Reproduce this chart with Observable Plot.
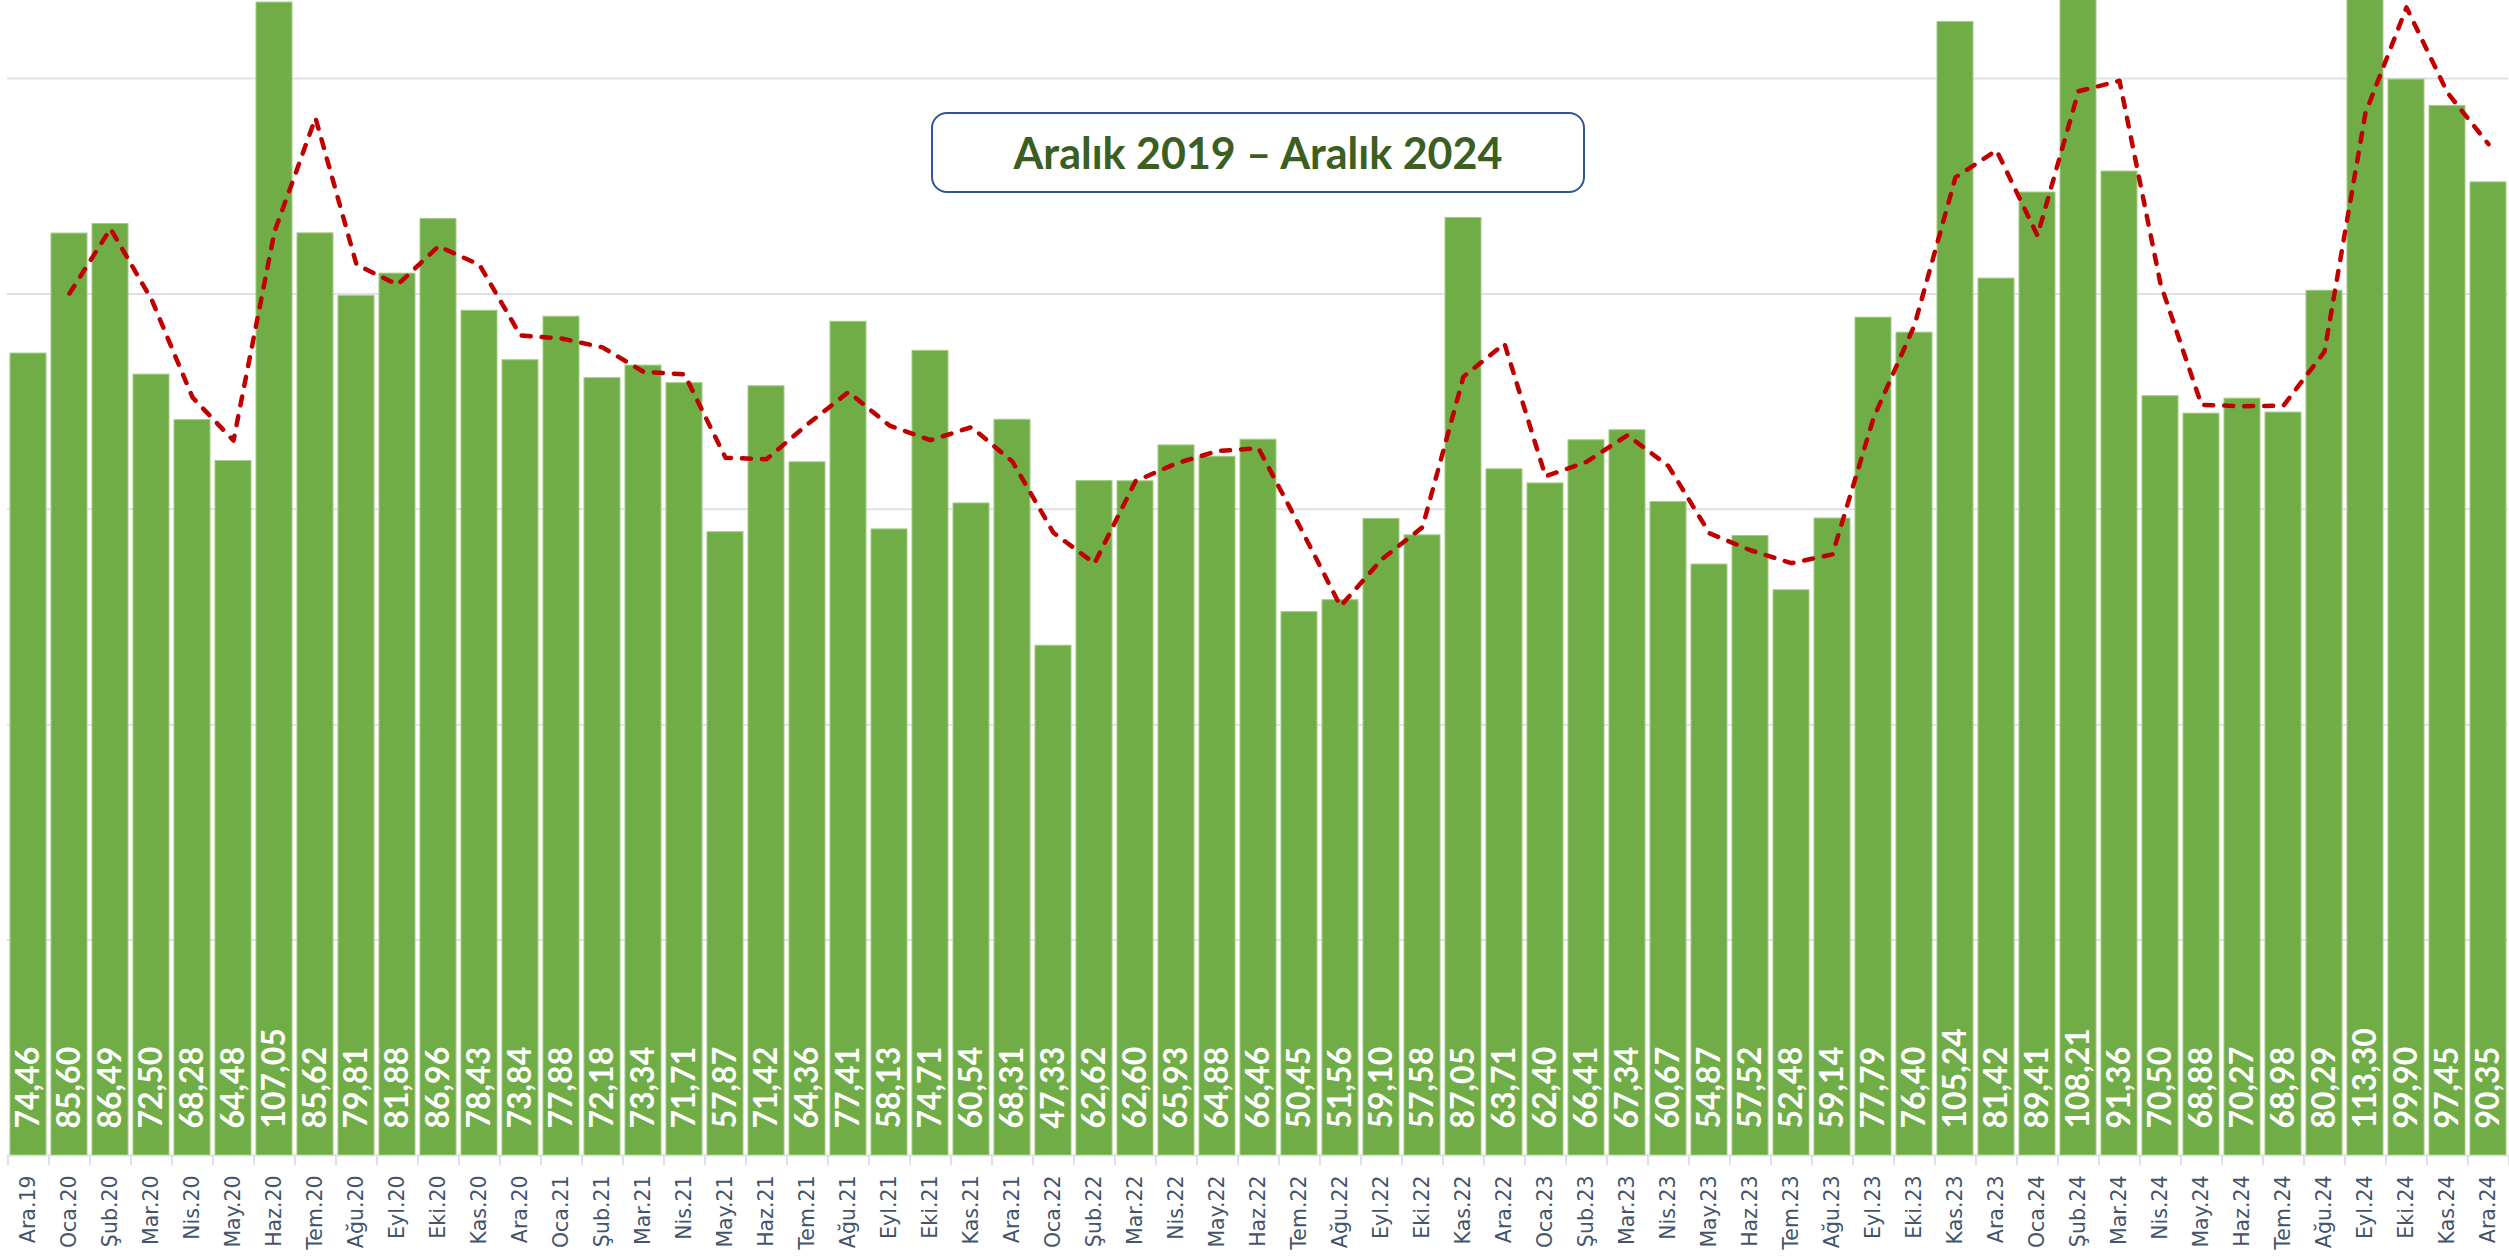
<!DOCTYPE html>
<html>
<head>
<meta charset="utf-8">
<script src="https://cdn.jsdelivr.net/npm/d3@7"></script>
<script src="https://cdn.jsdelivr.net/npm/@observablehq/plot@0.6"></script>
<style>
  html, body { margin: 0; padding: 0; background: #ffffff; }
  #wrap { position: relative; width: 2509px; height: 1260px; overflow: hidden; }
  #title {
    position: absolute; left: 931px; top: 112px; width: 650px; height: 77px;
    border: 2.5px solid #2F5597; border-radius: 16px; background: #ffffff;
    display: flex; align-items: center; justify-content: center;
    font-family: Lato, "Open Sans", sans-serif; font-weight: 700; font-size: 43px;
    color: #3B5E21; box-sizing: content-box;
  }
</style>
</head>
<body>
<div id="wrap"></div>
<script>
// Month labels (x categories)
const months = [
  "Ara.19",
  "Oca.20","Şub.20","Mar.20","Nis.20","May.20","Haz.20","Tem.20","Ağu.20","Eyl.20","Eki.20","Kas.20","Ara.20",
  "Oca.21","Şub.21","Mar.21","Nis.21","May.21","Haz.21","Tem.21","Ağu.21","Eyl.21","Eki.21","Kas.21","Ara.21",
  "Oca.22","Şub.22","Mar.22","Nis.22","May.22","Haz.22","Tem.22","Ağu.22","Eyl.22","Eki.22","Kas.22","Ara.22",
  "Oca.23","Şub.23","Mar.23","Nis.23","May.23","Haz.23","Tem.23","Ağu.23","Eyl.23","Eki.23","Kas.23","Ara.23",
  "Oca.24","Şub.24","Mar.24","Nis.24","May.24","Haz.24","Tem.24","Ağu.24","Eyl.24","Eki.24","Kas.24","Ara.24"
];

// Monthly values
const values = [
  74.46,
  85.60, 86.49, 72.50, 68.28, 64.48, 107.05, 85.62, 79.81, 81.88, 86.96, 78.43, 73.84,
  77.88, 72.18, 73.34, 71.71, 57.87, 71.42, 64.36, 77.41, 58.13, 74.71, 60.54, 68.31,
  47.33, 62.62, 62.60, 65.93, 64.88, 66.46, 50.45, 51.56, 59.10, 57.58, 87.05, 63.71,
  62.40, 66.41, 67.34, 60.67, 54.87, 57.52, 52.48, 59.14, 77.79, 76.40, 105.24, 81.42,
  89.41, 108.21, 91.36, 70.50, 68.88, 70.27, 68.98, 80.29, 113.30, 99.90, 97.45, 90.35
];

// Gridline values
const gridValues = [20, 40, 60, 80, 100];

const titleText = "Aralık 2019 – Aralık 2024";

const data = months.map((m, i) => ({month: m, value: values[i]}));
const fmt = v => v.toFixed(2).replace(".", ",");

const W = 2509, H = 1260, ML = 7, MR = 1, MB = 105;
const step = (W - ML - MR) / months.length;
const gridColor = "#DDE1E7";

const chart = Plot.plot({
  width: W,
  height: H,
  marginTop: 0,
  marginBottom: MB,
  marginLeft: ML,
  marginRight: MR,
  style: {fontFamily: "Lato, sans-serif", background: "#ffffff"},
  x: {domain: months, paddingInner: 0.13, paddingOuter: 0.065, label: null},
  y: {domain: [0, 107.24], axis: null},
  marks: [
    Plot.gridY(gridValues, {stroke: gridColor, strokeOpacity: 1, strokeWidth: 2}),
    Plot.ruleY([0], {stroke: gridColor, strokeWidth: 2}),
    Plot.ruleX(months, {x: d => d, y1: 0, y2: -0.95, dx: -step / 2, stroke: gridColor, strokeWidth: 2}),
    Plot.ruleX(months.slice(-1), {x: d => d, y1: 0, y2: -0.95, dx: step / 2, stroke: gridColor, strokeWidth: 2}),
    Plot.barY(data, {x: "month", y: "value", fill: "#70AD47", stroke: "#A3CC86", strokeWidth: 1, clip: true}),
    Plot.lineY(data, Plot.windowY({k: 2, anchor: "end", strict: true}, {
      x: "month", y: "value",
      stroke: "#C00000", strokeWidth: 4.5, strokeDasharray: "9,11",
      strokeLinecap: "round", strokeLinejoin: "round", clip: true
    })),
    Plot.text(data, {
      x: "month", y: 0, text: d => fmt(d.value), rotate: -90,
      textAnchor: "start", lineAnchor: "middle", dy: -27,
      fill: "#ffffff", fontWeight: "bold", fontSize: 32, fontFamily: "Lato, sans-serif"
    }),
    Plot.axisX({
      tickSize: 0, tickPadding: 20, tickRotate: -90, label: null,
      fill: "#44546A", fontSize: 20.5, fontFamily: "DejaVu Sans, sans-serif"
    })
  ]
});

const wrap = document.getElementById("wrap");
wrap.appendChild(chart);
const title = document.createElement("div");
title.id = "title";
title.textContent = titleText;
wrap.appendChild(title);
</script>
</body>
</html>
